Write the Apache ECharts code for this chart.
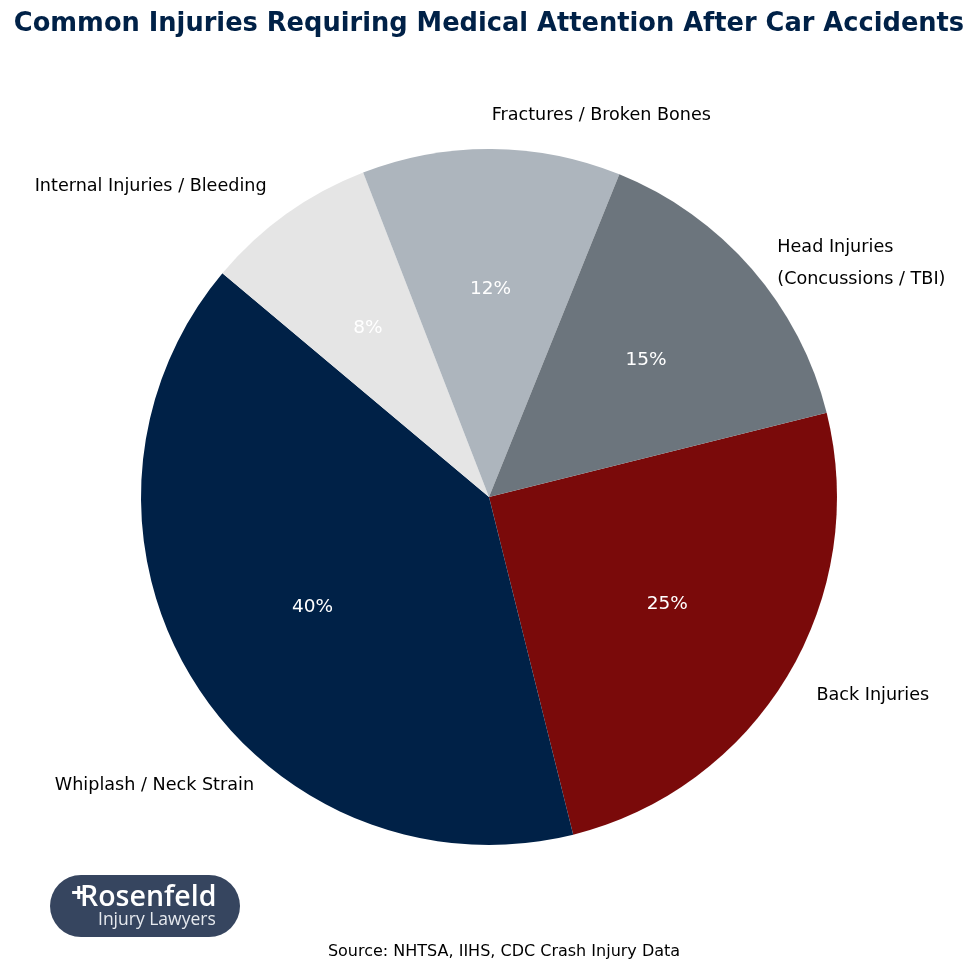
<!DOCTYPE html>
<html>
<head>
<meta charset="utf-8">
<title>Common Injuries</title>
<script src="https://cdn.jsdelivr.net/npm/echarts@6/dist/echarts.min.js"></script>
<style>
html, body { margin: 0; padding: 0; background: #fff; }
#chart { width: 980px; height: 980px; }
</style>
</head>
<body>
<div id="chart"></div>
<script>
// data
var categories = ['Back Injuries', 'Whiplash / Neck Strain', 'Internal Injuries / Bleeding', 'Fractures / Broken Bones', 'Head Injuries\n(Concussions / TBI)'];
var values = [25, 40, 8, 12, 15];
var colors = ['#7a0a0a', '#002147', '#e5e5e5', '#adb5bd', '#6c757d'];
// label nudges, same order as categories
var labelDx = [0, 89, 0, 0, 0];
var labelDy = [2, 86, 0, 0, 17];

var FONT = '"DejaVu Sans", sans-serif';
var mychart = echarts.init(document.getElementById('chart'));

var pieData = categories.map(function (name, i) {
    return { name: name, value: values[i], itemStyle: { color: colors[i] } };
});

var option = {
    backgroundColor: '#fff',
    animation: false,
    title: [
        {
            text: 'Common Injuries Requiring Medical Attention After Car Accidents',
            left: 484, top: 6, textAlign: 'center',
            textStyle: { fontFamily: FONT, fontWeight: 'bold', fontSize: 25.7, color: '#002147' }
        },
        {
            text: 'Source: NHTSA, IIHS, CDC Crash Injury Data',
            left: 499, top: 939, textAlign: 'center',
            textStyle: { fontFamily: FONT, fontWeight: 'normal', fontSize: 16, color: '#000' }
        }
    ],
    series: [
        {
            // the slices + outer names
            type: 'pie',
            center: [489, 497],
            radius: [0, 348],
            startAngle: 14,
            clockwise: true,
            avoidLabelOverlap: false,
            silent: true,
            data: pieData,
            label: {
                show: true, position: 'outside', fontFamily: FONT, fontSize: 17.6,
                color: '#000', lineHeight: 32, formatter: '{b}', distanceToLabelLine: 0
            },
            labelLine: { show: false, length: 34, length2: 0 },
            labelLayout: function (params) {
                return { dx: labelDx[params.dataIndex], dy: labelDy[params.dataIndex] };
            }
        },
        {
            // transparent ring, only there to put the percents at 0.6 r
            type: 'pie',
            center: [489, 497],
            radius: [62, 348],
            startAngle: 14,
            clockwise: true,
            avoidLabelOverlap: false,
            silent: true,
            data: categories.map(function (name, i) { return { name: name, value: values[i] }; }),
            itemStyle: { color: 'transparent' },
            label: {
                show: true, position: 'inside', fontFamily: FONT, fontSize: 18.5,
                color: '#fff', formatter: '{c}%'
            },
            labelLine: { show: false }
        }
    ],
    graphic: [
        {
            type: 'rect', left: 50, top: 875,
            shape: { width: 190, height: 62, r: 31 },
            style: { fill: '#36455f' }
        },
        {
            type: 'text', left: 71, top: 881,
            style: { text: '+', fill: '#fff', font: 'bold 27px "Open Sans", sans-serif' }
        },
        {
            type: 'text', left: 80, top: 883,
            style: { text: 'Rosenfeld', fill: '#fff', font: '600 28.5px "Open Sans", sans-serif' }
        },
        {
            type: 'text', left: 98, top: 911,
            style: { text: 'Injury Lawyers', fill: '#e6e9ee', font: '17.5px "Open Sans", sans-serif' }
        }
    ]
};

mychart.setOption(option);
</script>
</body>
</html>
